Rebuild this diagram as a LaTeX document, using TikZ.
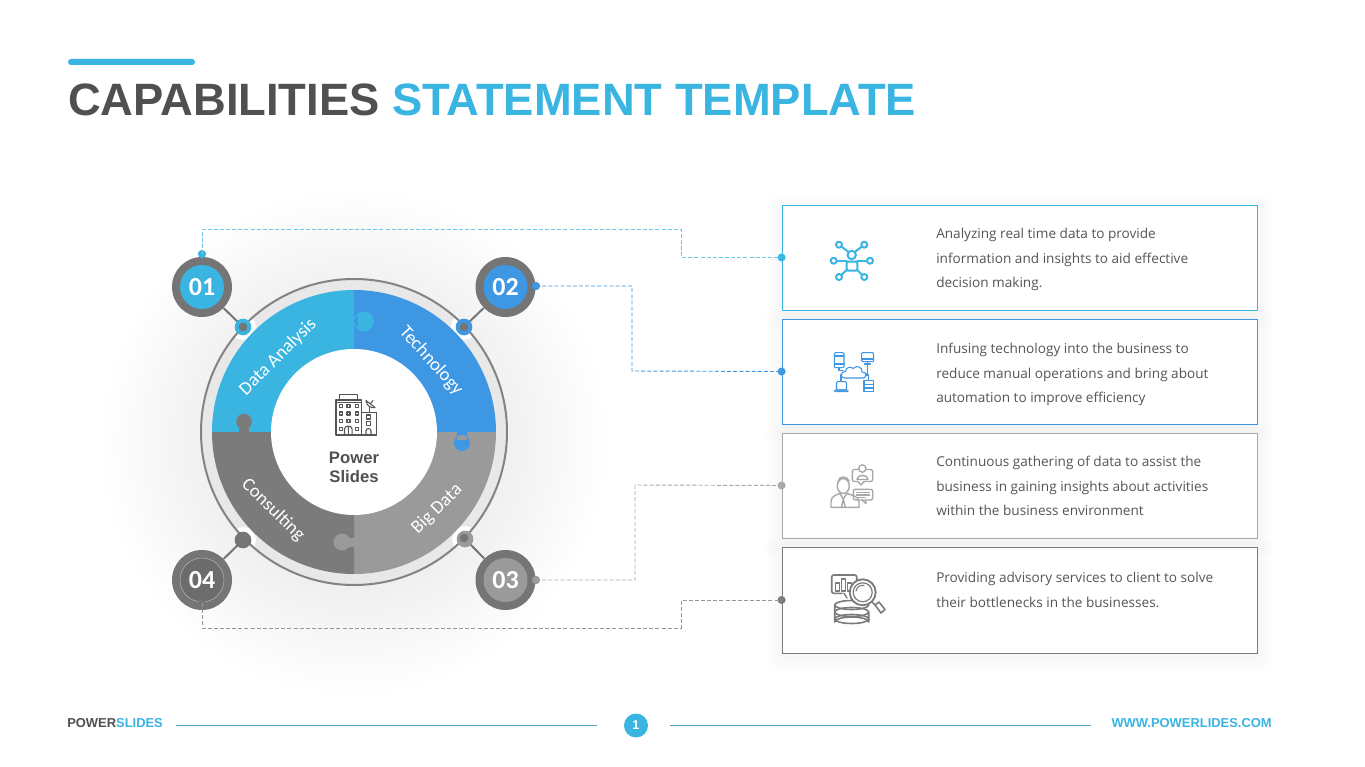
\documentclass[tikz,border=0pt]{standalone}
\usepackage{fontspec}
\setmainfont{Liberation Sans}
\newfontfamily\carl{Carlito}
\newfontfamily\opens{Open Sans}
\definecolor{cA}{HTML}{3AB5E2}
\definecolor{cB}{HTML}{3D97E2}
\definecolor{cC}{HTML}{9A9A9A}
\definecolor{cD}{HTML}{7B7B7B}
\definecolor{cE}{HTML}{757575}
\definecolor{cF}{HTML}{A8A8A8}
\definecolor{ink}{HTML}{555555}
\definecolor{titleink}{HTML}{505050}
\tikzset{
  x=0.75pt,y=-0.75pt,
  cardbox/.style={draw=#1,line width=0.6pt,fill=white,minimum width=356.25pt,inner sep=0,rectangle},
  smalldot/.style={circle,fill=#1,minimum size=6.2pt,inner sep=0},
  tinydot/.style={circle,fill=#1,minimum size=6pt,inner sep=0},
  joint/.style={circle,fill=#1,minimum size=12.5pt,inner sep=0},
  jointcore/.style={circle,fill=#1,minimum size=6.5pt,inner sep=0},
  badge/.style={circle,fill=cE,minimum size=45pt,inner sep=0},
  badgein/.style={circle,fill=#1,minimum size=33pt,inner sep=0,text=white,font=\carl\bfseries\fontsize{19.5pt}{20pt}\selectfont},
  seglabel/.style={text=white,font=\carl\fontsize{14pt}{16pt}\selectfont,inner sep=0},
  dashline/.style={draw=#1,line width=0.7pt,dash pattern=on 3pt off 1.6pt},
  bodytext/.style={anchor=west,align=left,text=ink,inner sep=0,font=\opens\fontsize{10.2pt}{18.3pt}\selectfont},
  foot/.style={inner sep=0,font=\bfseries\fontsize{9.7pt}{11pt}\selectfont},
  rule/.style={draw=#1,line width=0.6pt},
  icon/.style={draw=#1,line width=1.05pt,line join=round,line cap=round},
  iconthin/.style={draw=#1,line width=0.8pt,line join=round,line cap=round},
}
\newcommand{\cardshadow}[4]{%
  \foreach \s in {2,4,...,16}{\fill[black,opacity=0.0045,rounded corners=6pt] (#1-\s,#2-\s+6) rectangle (#3+\s,#4+\s+4);}}
\begin{document}
\begin{tikzpicture}
\useasboundingbox (0,0) rectangle (1365,767);
\fill[white] (0,0) rectangle (1365,767);
% glow behind the wheel
\shade[inner color=black!14,outer color=white] (354,442) circle (255);
% title
\fill[cA,rounded corners=2.2pt] (68,59) rectangle (195,65);
\node (title) [anchor=west,inner sep=0,font=\bfseries\fontsize{34pt}{36pt}\selectfont,text=titleink] at (68,100) {CAPABILITIES \textcolor{cA}{STATEMENT TEMPLATE}};
% cards
\cardshadow{782}{205}{1257}{310}
\cardshadow{782}{319}{1257}{424}
\cardshadow{782}{433}{1257}{538}
\cardshadow{782}{547}{1257}{653}
\node (b1) [cardbox=cA,minimum height=78.75pt] at (1019.5,257.5) {};
\node (b2) [cardbox=cB,minimum height=78.75pt] at (1019.5,371.5) {};
\node (b3) [cardbox=cF,minimum height=78.75pt] at (1019.5,485.5) {};
\node (b4) [cardbox=cD,minimum height=79.5pt] at (1019.5,600) {};
\node (t1) [bodytext] at (936,259.5) {Analyzing real time data to provide\\information and insights to aid effective\\decision making.};
\node (t2) [bodytext] at (936,374.5) {Infusing technology into the business to\\reduce manual operations and bring about\\automation to improve efficiency};
\node (t3) [bodytext] at (936,486) {Continuous gathering of data to assist the\\business in gaining insights about activities\\within the business environment};
\node (t4) [bodytext] at (936,590) {Providing advisory services to client to solve\\their bottlenecks in the businesses.};
% wheel
\coordinate (c) at (354,432);
\coordinate (p1) at (243,327);
\coordinate (p2) at (464,327);
\coordinate (p3) at (465,539);
\coordinate (p4) at (243,540);
\fill[black!9] (c) circle (153);
\begin{scope}
\clip (c) circle (153);
\fill[white] (p1) circle (13) (p2) circle (13) (p3) circle (13) (p4) circle (13);
\end{scope}
\draw[cE!90,line width=1.5pt] (c) circle (153);
% sectors
\fill[cA] (c) -- ++(180:142) arc (180:270:142) -- cycle;
\fill[cB] (c) -- ++(270:142) arc (270:360:142) -- cycle;
\fill[cC] (c) -- ++(0:142) arc (0:90:142) -- cycle;
\fill[cD] (c) -- ++(90:142) arc (90:180:142) -- cycle;
% puzzle tabs
\fill[cA] (352,317) rectangle (358,326) (364,321.5) circle (10);
\fill[cD] (239,433) rectangle (249,425) (244,421.5) circle (7.8);
\fill[cB] (457,431) rectangle (467,440) (462,443) circle (8);
\fill[cC] (355,538) rectangle (343,547) (342,542) circle (8.5);
% centre
\fill[white] (c) circle (83);
\node (n1) [seglabel,rotate=45] at (278,357) {Data Analysis};
\node (n2) [seglabel,rotate=-48] at (431,361) {Technology};
\node (n3) [seglabel,rotate=-44] at (273,510) {Consulting};
\node (n4) [seglabel,rotate=44] at (437,509) {Big Data};
\node (power) [inner sep=0,align=center,text=titleink,font=\bfseries\fontsize{12.5pt}{14.3pt}\selectfont] at (354,467.5) {Power\\Slides};
% building icon
\draw[iconthin=ink] (339.5,400) -- (339.5,394.5) -- (357.5,394.5) -- (357.5,400);
\draw[iconthin=ink] (336,400) rectangle (361.7,402.7);
\draw[iconthin=ink] (336,402.7) -- (336,435) -- (376.7,435) -- (376.7,412.3) -- (361.7,412.3) (361.7,402.7) -- (361.7,435);
\foreach \yy in {406,413.5,421}{\foreach \xx in {340.7,348.5,356.7}{\draw[iconthin=ink] (\xx-1.5,\yy-1.5) rectangle (\xx+1.5,\yy+1.5);}}
\draw[iconthin=ink] (339.2,427.5) rectangle (342.2,430.5) (355.2,427.5) rectangle (358.2,430.5);
\draw[iconthin=ink] (344.5,435) -- (344.5,429) arc (180:360:3.8 and 3) -- (352.1,435) (348.3,426) -- (348.3,435);
\draw[iconthin=ink] (366.5,415) rectangle (370.5,419) (366.5,421.5) rectangle (370.5,425.5);
\draw[iconthin=ink] (366,435) -- (366,431) arc (180:360:2.5) -- (371,435);
\draw[iconthin=ink] (369.5,412.3) -- (369.5,407);
\draw[iconthin=ink] (366,400.5) .. controls (366.5,406) and (371,408.5) .. (375,407.5) -- cycle;
\draw[iconthin=ink] (370,404) -- (373,400.5);
% badges
\node (a1) [badge] at (202,287) {};
\node (a2) [badge] at (505.5,287) {};
\node (a3) [badge] at (505.5,580) {};
\node (a4) [badge] at (202,580) {};
\draw[cE,line width=1.5pt] (a1) -- (p1) (a2) -- (p2) (a3) -- (p3) (a4) -- (p4);
\node (j1) [joint=cA] at (p1) {};
\node (j2) [joint=cB] at (p2) {};
\node (j3) [joint=cC] at (p3) {};
\node (j4) [joint=cE] at (p4) {};
\node (core1) [jointcore=cE] at (j1.center) {};
\node (core2) [jointcore=cE] at (j2.center) {};
\node (core3) [jointcore=cE] at (464,538) {};
\node (core4) [jointcore=cE] at (j4.center) {};
\node (i1) [badgein=cA] at (a1) {01};
\node (i2) [badgein=cB] at (a2) {02};
\node (i3) [badgein=cC] at (a3) {03};
\node (i4) [badgein=cE!92!black,draw=white!45!cE,line width=0.4pt] at (a4) {04};
% connector dots
\node (d1) [smalldot=cA] at (202,254) {};
\node (d2) [smalldot=cB] at (536,286) {};
\node (d3) [smalldot=cC] at (536,580) {};
\node (d4) [smalldot=cE] at (202,603) {};
\node (e1) [tinydot=cA] at (b1.west) {};
\node (e2) [tinydot=cB] at (b2.west) {};
\node (e3) [tinydot=cF] at (b3.west) {};
\node (e4) [tinydot=cD] at (b4.west) {};
\coordinate (v1) at (681,229);
\coordinate (v2) at (632,371);
\coordinate (v3) at (635,485);
\coordinate (v4) at (681,628);
\draw[dashline=cA!75] (d1.center) |- (v1) |- (e1.center);
\draw[dashline=cB] (d2.center) -| (v2) -- (e2.center);
\draw[dashline=cF] (d3.center) -| (v3) -- (e3.center);
\draw[dashline=cF!90!black] (d4.center) |- (v4) |- (e4.center);
% network icon
\draw[icon=cA,line width=1.5pt] (851.7,255) circle (4.2);
\draw[icon=cA,line width=1.5pt,rounded corners=1pt] (846.7,261.5) rectangle (857.3,270.7);
\foreach \px/\py/\qx/\qy in {839/244.7/848.6/252, 864.3/244.7/854.8/252, 833.7/260.7/846.7/260.7, 870/260.7/857.3/260.7, 839/277/846.7/270, 864.3/277/857.3/270}{
  \draw[icon=cA,line width=1.5pt] (\qx,\qy) -- (\px,\py);
  \filldraw[icon=cA,line width=1.5pt,fill=white] (\px,\py) circle (3);}
% cloud-and-devices icon
\draw[iconthin=cB,rounded corners=0.8pt] (834.3,352.7) rectangle (844,367.7);
\draw[iconthin=cB] (834.3,356) -- (844,356) (834.3,364) -- (844,364);
\draw[iconthin=cB,rounded corners=0.8pt] (861.7,352.7) rectangle (873.7,361.7);
\draw[iconthin=cB] (861.7,359) -- (873.7,359) (867.7,361.7) -- (867.7,364) (864.5,364) -- (870.5,364);
\draw[iconthin=cB] (839,367.7) -- (839,370.7) -- (843,370.7) (841,381.7) -- (841,375) -- (843,375) (867.7,364) -- (867.7,374) -- (864,374) (868.5,380.7) -- (868.5,375) -- (864,375);
\filldraw[iconthin=cB,fill=white] (844.5,378) .. controls (840,378) and (840,371) .. (845.5,371.5) .. controls (846,367) and (851,366) .. (853,368.5) .. controls (857,364.5) and (863,367.5) .. (862,372) .. controls (867,371.5) and (867,378) .. (863,378) -- cycle;
\draw[iconthin=cB,rounded corners=0.8pt] (836.5,381.7) rectangle (846.5,390);
\draw[iconthin=cB,rounded corners=0.8pt] (834.5,390) rectangle (848,391.7);
\draw[iconthin=cB] (864,380.7) rectangle (873.7,391.7) (864,384.5) -- (873.7,384.5) (864,388) -- (873.7,388);
% people icon
\draw[icon=cF] (843.3,486) circle (6 and 7.5);
\draw[icon=cF] (838,482) .. controls (838,476) and (847,475) .. (849,481);
\draw[icon=cF] (831,507.3) -- (831,502) .. controls (831,496) and (836,495) .. (840,493.5) -- (843.3,499) -- (847,493.5) .. controls (851,495) and (859,496) .. (859,502) -- (859,507.3) -- cycle;
\draw[icon=cF] (843.3,499) -- (841.5,507.3) (843.3,499) -- (845.3,507.3);
\draw[icon=cF,rounded corners=1.5pt] (852.3,469.5) rectangle (872.7,481.5);
\fill[white] (858,480) rectangle (864,483);
\draw[icon=cF] (858,481.5) -- (861,485) -- (864,481.5);
\filldraw[icon=cF,fill=white] (862.3,468.5) circle (3.7);
\draw[icon=cF] (857,479.5) .. controls (857,474) and (868,474) .. (868,479.5) -- cycle;
\draw[icon=cF,rounded corners=1.5pt] (853.3,489.3) rectangle (872.7,500);
\draw[icon=cF] (856.5,492.5) -- (869.5,492.5) (856.5,495) -- (869.5,495) (856.5,497.5) -- (865,497.5);
\draw[icon=cF] (862,500) -- (866,503.5) -- (866,500);
% analytics icon
\draw[icon=cD,line width=1.2pt,rounded corners=1.5pt] (856.7,589) -- (856.7,575) -- (831.7,575) -- (831.7,593.3) -- (842,593.3);
\draw[icon=cD] (835.5,591) rectangle (839.5,583) (841.5,591) rectangle (845.5,579) (847.5,591) rectangle (851.5,583);
\draw[icon=cD] (844,593.3) -- (847,598);
\foreach \yy in {605,612,619}{\draw[icon=cD,line width=1.2pt] (834.7,\yy) arc (180:0:17 and 4.5);\draw[icon=cD,line width=1.2pt] (834.7,\yy) arc (180:360:17 and 4.5);}
\draw[icon=cD,line width=1.2pt] (834.7,605) -- (834.7,622) arc (180:0:17 and -5) -- (868.7,612);
\filldraw[icon=cD,line width=1.4pt,fill=white] (862.7,592.3) circle (13);
\draw[icon=cD,line width=0.9pt] (862.7,592.3) circle (9.5);
\draw[icon=cD,line width=0.8pt] (856,591) arc (190:280:7);
\draw[icon=cD,line width=1.2pt] (872,602) -- (875,605) -- (881,613) -- (885,609.5) -- (879,602) -- (875,605);
% footer
\node (pw) [foot,anchor=west,text=titleink] at (67,723.5) {POWER\textcolor{cA}{SLIDES}};
\coordinate (l1) at (176,725.5);
\coordinate (l2) at (597,725.5);
\coordinate (l3) at (670,725.5);
\coordinate (l4) at (1091,725.5);
\draw[rule=cA!65!gray] (l1) -- (l2);
\draw[rule=cA!65!gray] (l3) -- (l4);
\node (pg) [circle,fill=cA,minimum size=18pt,inner sep=0,text=white,font=\bfseries\fontsize{9.5pt}{11pt}\selectfont] at (636,725.5) {1};
\node (web) [foot,anchor=east,text=cA] at (1272,723.5) {WWW.POWERLIDES.COM};
\end{tikzpicture}
\end{document}
